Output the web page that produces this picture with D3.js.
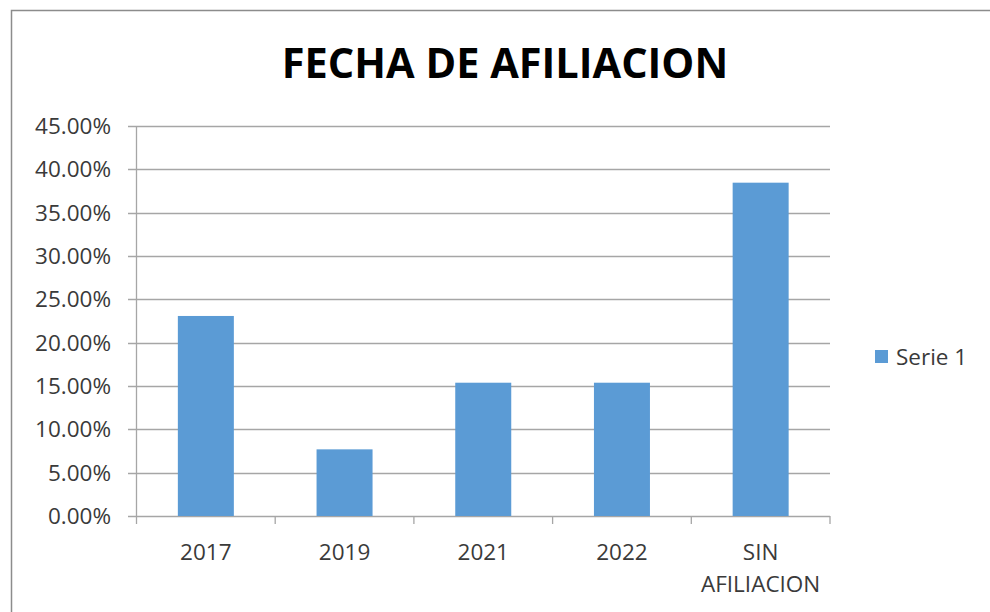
<!DOCTYPE html>
<html>
<head>
    <title>Fecha de afiliacion</title>
    <script src="https://cdn.jsdelivr.net/npm/d3@7"></script>
    <style>
        body { margin: 0; background: #fff; }
        text { font-family: "Open Sans", "Liberation Sans", sans-serif; fill: #3a3a3a; }
    </style>
</head>
<body>
    <svg width="990" height="612" id="mainsvg"></svg>
    <script>
        const categories = ['2017', '2019', '2021', '2022', 'SIN AFILIACION'];
        const values = [0.2308, 0.0769, 0.1538, 0.1538, 0.3846];
        const yTicks = [0, 0.05, 0.10, 0.15, 0.20, 0.25, 0.30, 0.35, 0.40, 0.45];
        const seriesName = 'Serie 1';

        const svg = d3.select('svg');
        const margin = { top: 126, left: 136.5, right: 160, bottom: 96 };
        const plotRight = 830;
        const plotBottom = 516;
        const fs = 22.5;

        svg.append('rect')
            .attr('x', 11.5).attr('y', 10.5)
            .attr('width', 1000).attr('height', 700)
            .attr('fill', 'none').attr('stroke', '#8c8c8c').attr('stroke-width', 1.5);

        svg.append('text')
            .attr('x', 505).attr('y', 78)
            .attr('text-anchor', 'middle')
            .attr('font-size', 41.5).attr('font-weight', 'bold')
            .style('fill', '#000')
            .text('FECHA DE AFILIACION');

        const x = d3.scaleBand().domain(categories).range([margin.left, plotRight]);
        const y = d3.scaleLinear().domain([0, 0.45]).range([plotBottom, margin.top]);

        // gridlines
        svg.append('g').selectAll('line').data(yTicks).join('line')
            .attr('x1', 128).attr('x2', plotRight)
            .attr('y1', d => Math.round(y(d)) + 0.5).attr('y2', d => Math.round(y(d)) + 0.5)
            .attr('stroke', '#a6a6a6').attr('stroke-width', 1.3);

        // y labels
        svg.append('g').selectAll('text').data(yTicks).join('text')
            .attr('x', 111).attr('y', d => y(d))
            .attr('dy', '0.36em')
            .attr('text-anchor', 'end')
            .attr('font-size', fs)
            .text(d => (d * 100).toFixed(2) + '%');

        // bars
        const barW = 56;
        svg.append('g').selectAll('rect').data(values).join('rect')
            .attr('x', (d, i) => x(categories[i]) + x.bandwidth() / 2 - barW / 2)
            .attr('y', d => y(d))
            .attr('width', barW)
            .attr('height', d => y(0) - y(d))
            .attr('fill', '#5b9bd5');

        // axes lines
        svg.append('line')
            .attr('x1', margin.left).attr('x2', margin.left)
            .attr('y1', margin.top).attr('y2', plotBottom)
            .attr('stroke', '#a6a6a6').attr('stroke-width', 1.3);
        const xTicks = categories.map(c => x(c)).concat([plotRight]);
        svg.append('g').selectAll('line').data(xTicks).join('line')
            .attr('x1', d => d).attr('x2', d => d)
            .attr('y1', plotBottom).attr('y2', plotBottom + 8)
            .attr('stroke', '#a6a6a6').attr('stroke-width', 1.3);

        // x labels
        const xl = svg.append('g').selectAll('text').data(categories).join('text')
            .attr('x', d => x(d) + x.bandwidth() / 2)
            .attr('y', 560)
            .attr('text-anchor', 'middle')
            .attr('font-size', fs);
        xl.each(function (d) {
            const words = d.split(' ');
            const t = d3.select(this);
            words.forEach((w, i) => {
                t.append('tspan')
                    .attr('x', x(d) + x.bandwidth() / 2)
                    .attr('dy', i === 0 ? 0 : 32)
                    .text(w);
            });
        });

        // legend
        svg.append('rect')
            .attr('x', 875).attr('y', 350).attr('width', 13).attr('height', 13)
            .attr('fill', '#5b9bd5');
        svg.append('text')
            .attr('x', 896).attr('y', 365)
            .attr('font-size', fs)
            .text(seriesName);
    </script>
</body>
</html>
